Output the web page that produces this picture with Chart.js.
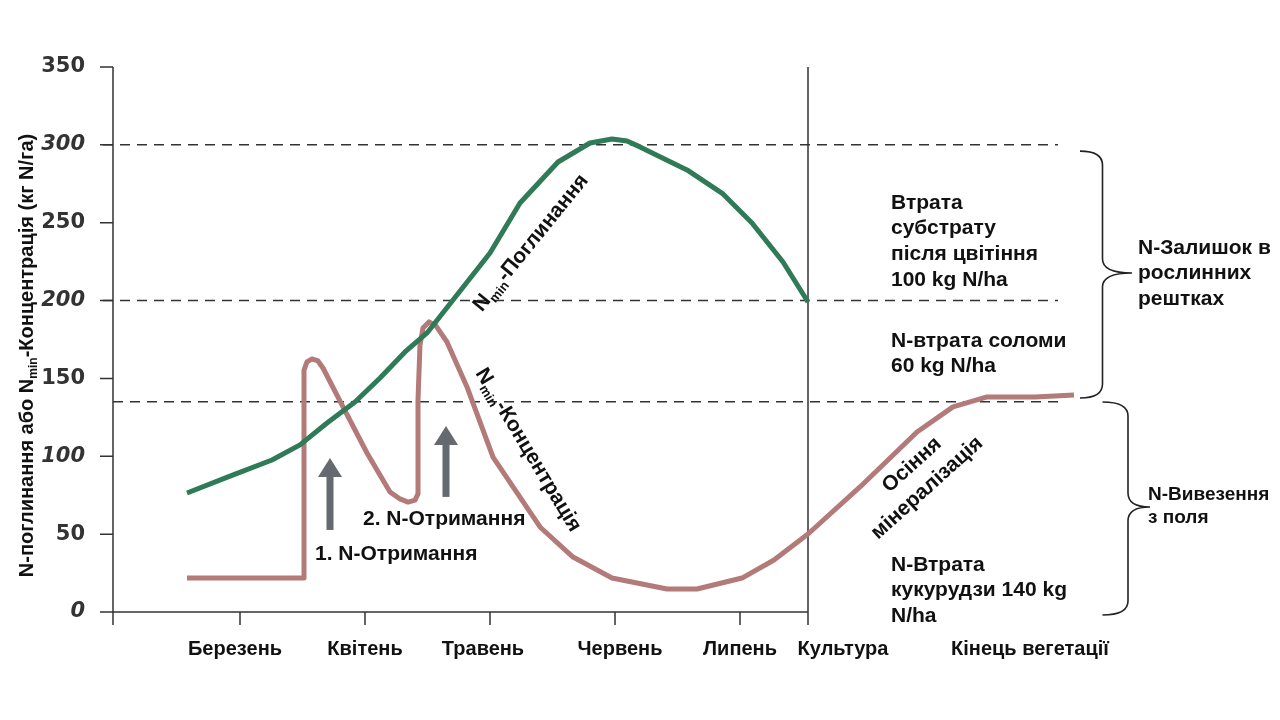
<!DOCTYPE html>
<html lang="uk">
<head>
<meta charset="utf-8">
<title>N-поглинання та Nmin-концентрація</title>
<script src="https://cdn.jsdelivr.net/npm/chart.js@4.4.1/dist/chart.umd.min.js"></script>
<style>
  html, body { margin: 0; padding: 0; background: #fff; }
  #wrap { position: relative; width: 1280px; height: 720px; }
</style>
</head>
<body>
<div id="wrap"><canvas id="chart" width="1280" height="720"></canvas></div>
<script>
// вісь X у "місяцях": 1 = Березень ... 5 = Липень, далі лінія "Культура"
const uptakeX = [0.576, 0.92, 1.256, 1.48, 1.696, 1.92, 2.12, 2.32, 2.496, 2.704, 3.0, 3.24, 3.544, 3.8, 3.976, 4.096, 4.2, 4.576, 4.864, 5.096, 5.344, 5.544];
const uptakeY = [76.4, 87.3, 97.6, 107.3, 121.4, 134.9, 150.3, 167.0, 179.2, 200.4, 230.6, 262.7, 289.0, 301.2, 303.8, 302.5, 298.7, 283.9, 268.5, 249.8, 224.8, 199.1];

const concX = [0.576, 1.512, 1.512, 1.536, 1.576, 1.624, 1.664, 1.824, 2.016, 2.2, 2.28, 2.344, 2.4, 2.424, 2.424, 2.44, 2.464, 2.512, 2.568, 2.656, 2.816, 3.024, 3.4, 3.664, 3.976, 4.416, 4.656, 5.016, 5.272, 5.544, 5.96, 6.416, 6.704, 6.976, 7.36, 7.672];
const concY = [21.8, 21.8, 155.4, 160.6, 162.5, 161.2, 156.7, 131.7, 102.1, 77.1, 72.6, 70.6, 71.9, 75.8, 136.2, 171.5, 182.4, 186.3, 183.7, 173.4, 144.5, 99.5, 54.6, 35.3, 21.8, 14.8, 14.8, 21.8, 33.4, 50.1, 80.3, 115.6, 131.7, 138.1, 138.1, 139.4];

const monthLabels = ['Березень', 'Квітень', 'Травень', 'Червень', 'Липень', 'Культура', 'Кінець вегетації'];
const monthLabelPos = [0.96, 2.0, 2.944, 4.04, 5.0, 5.824, 7.32];
const tickMarkPos = [1, 2, 3, 4, 5];
const cropLineX = 5.544;
const italicTicks = [0, 100, 200, 300];
const refLines = [300, 200, 135];
const refLineEnd = 7.544;

// стрілки внесення добрив: x, початок і вістря (кг N/га)
const arrows = [
  { x: 1.72, from: 52.7, to: 98.9 },
  { x: 2.648, from: 73.9, to: 119.5 }
];

const blocks = [
  { lines: ['Втрата', 'субстрату', 'після цвітіння', '100 kg N/ha'], x: 6.208, y: 262.7, size: 21, lh: 25.7 },
  { lines: ['N-втрата соломи', '60 kg N/ha'], x: 6.208, y: 174.1, size: 21, lh: 25.7 },
  { lines: ['N-Втрата', 'кукурудзи 140 kg', 'N/ha'], x: 6.208, y: 30.2, size: 21, lh: 25.7 },
  { lines: ['N-Залишок в', 'рослинних', 'рештках'], x: 8.184, y: 233.8, size: 21, lh: 25.7 },
  { lines: ['N-Вивезення', 'з поля'], x: 8.264, y: 75.1, size: 19, lh: 23 },
  { lines: ['1. N-Отримання'], x: 1.6, y: 37.3, size: 21, lh: 25 },
  { lines: ['2. N-Отримання'], x: 1.984, y: 59.7, size: 21, lh: 25 }
];

const slanted = [
  { parts: [['N'], ['min', 1], ['-Поглинання']], x: 3.328, y: 237, angle: -51 },
  { parts: [['N'], ['min', 1], ['-Концентрація']], x: 3.304, y: 104, angle: 59 },
  { parts: [['Осіння']], x: 6.376, y: 94.4, angle: -42 },
  { parts: [['мінералізація']], x: 6.496, y: 79.6, angle: -42 }
];

const braces = [
  { x: 7.72, spine: 7.9, tip: 8.136, top: 296, bottom: 137.4, mid: 217.7 },
  { x: 7.9, spine: 8.104, tip: 8.28, top: 134.9, bottom: -1.9, mid: 67.4 }
];

const FONT = '"Liberation Sans", Arial, sans-serif';
const INK = '#222';

function richWidth(ctx, parts, size) {
  let w = 0;
  parts.forEach(([t, sub]) => {
    ctx.font = `bold ${sub ? Math.round(size * 0.62) : size}px ${FONT}`;
    w += ctx.measureText(t).width;
  });
  return w;
}

function drawRich(ctx, parts, cx, cy, angle, size) {
  ctx.save();
  ctx.translate(cx, cy);
  ctx.rotate(angle * Math.PI / 180);
  ctx.textBaseline = 'middle';
  ctx.textAlign = 'left';
  ctx.fillStyle = '#111';
  let x = -richWidth(ctx, parts, size) / 2;
  parts.forEach(([t, sub]) => {
    const s = sub ? Math.round(size * 0.62) : size;
    ctx.font = `bold ${s}px ${FONT}`;
    ctx.fillText(t, x, sub ? size * 0.32 : 0);
    x += ctx.measureText(t).width;
  });
  ctx.restore();
}

const decor = {
  id: 'decor',
  beforeDatasetsDraw(chart) {
    const { ctx, scales: { x, y } } = chart;
    const y0 = y.getPixelForValue(0);
    ctx.save();
    ctx.strokeStyle = '#333';
    ctx.lineWidth = 1.5;

    // пунктирні рівні
    ctx.setLineDash([10, 7]);
    refLines.forEach((v, i) => {
      const py = y.getPixelForValue(v);
      ctx.beginPath();
      ctx.moveTo(i < 2 ? x.left - 10 : x.left, py);
      ctx.lineTo(x.getPixelForValue(refLineEnd), py);
      ctx.stroke();
    });
    ctx.setLineDash([]);

    // осі
    ctx.beginPath();
    ctx.moveTo(x.left, y.getPixelForValue(350));
    ctx.lineTo(x.left, y0 + 13);
    ctx.moveTo(x.left - 8, y0);
    ctx.lineTo(x.getPixelForValue(cropLineX), y0);
    const cx = x.getPixelForValue(cropLineX);
    ctx.moveTo(cx, y.getPixelForValue(350));
    ctx.lineTo(cx, y0 + 13);
    tickMarkPos.forEach(v => {
      const px = x.getPixelForValue(v);
      ctx.moveTo(px, y0);
      ctx.lineTo(px, y0 + 13);
    });
    for (let v = 0; v <= 350; v += 50) {
      const py = y.getPixelForValue(v);
      ctx.moveTo(x.left - 13, py);
      ctx.lineTo(x.left, py);
    }
    ctx.stroke();
    ctx.restore();
  },
  afterDatasetsDraw(chart) {
    const { ctx, scales: { x, y } } = chart;
    ctx.save();

    // стрілки
    ctx.fillStyle = '#646a6f';
    arrows.forEach(a => {
      const px = x.getPixelForValue(a.x);
      const pFrom = y.getPixelForValue(a.from);
      const pTip = y.getPixelForValue(a.to);
      const head = 19;
      ctx.fillRect(px - 3.5, pTip + head - 1, 7, pFrom - pTip - head + 1);
      ctx.beginPath();
      ctx.moveTo(px, pTip);
      ctx.lineTo(px + 12, pTip + head);
      ctx.lineTo(px - 12, pTip + head);
      ctx.closePath();
      ctx.fill();
    });

    // підписи-блоки
    ctx.fillStyle = '#111';
    ctx.textAlign = 'left';
    ctx.textBaseline = 'middle';
    blocks.forEach(b => {
      ctx.font = `bold ${b.size}px ${FONT}`;
      const px = x.getPixelForValue(b.x);
      const py = y.getPixelForValue(b.y);
      b.lines.forEach((t, i) => ctx.fillText(t, px, py + i * b.lh));
    });

    slanted.forEach(s => drawRich(ctx, s.parts, x.getPixelForValue(s.x), y.getPixelForValue(s.y), s.angle, 21));

    // фігурні дужки
    ctx.strokeStyle = INK;
    ctx.lineWidth = 1.6;
    braces.forEach(b => {
      const xl = x.getPixelForValue(b.x), xs = x.getPixelForValue(b.spine), xt = x.getPixelForValue(b.tip);
      const yt = y.getPixelForValue(b.top), yb = y.getPixelForValue(b.bottom), ym = y.getPixelForValue(b.mid);
      const r = 14;
      ctx.beginPath();
      ctx.moveTo(xl, yt);
      ctx.quadraticCurveTo(xs, yt, xs, yt + r);
      ctx.lineTo(xs, ym - r);
      ctx.quadraticCurveTo(xs, ym, xt, ym);
      ctx.quadraticCurveTo(xs, ym, xs, ym + r);
      ctx.lineTo(xs, yb - r);
      ctx.quadraticCurveTo(xs, yb, xl, yb);
      ctx.stroke();
    });

    // назва осі Y
    drawRich(ctx, [['N-поглинання або N'], ['min', 1], ['-Концентрація (кг N/га)']],
      27, (y.top + y.bottom) / 2 + 16, -90, 20);
    ctx.restore();
  }
};

new Chart(document.getElementById('chart'), {
  type: 'line',
  data: {
    datasets: [
      {
        label: 'Nmin-Поглинання',
        data: uptakeX.map((v, i) => ({ x: v, y: uptakeY[i] })),
        borderColor: '#2f7a57', borderWidth: 5, pointRadius: 0,
        tension: 0, borderJoinStyle: 'round', fill: false
      },
      {
        label: 'Nmin-Концентрація',
        data: concX.map((v, i) => ({ x: v, y: concY[i] })),
        borderColor: '#b27a78', borderWidth: 5, pointRadius: 0,
        tension: 0, borderJoinStyle: 'round', fill: false
      }
    ]
  },
  options: {
    responsive: false, animation: false, devicePixelRatio: 1,
    layout: { padding: { top: 67, right: 165, left: 0, bottom: 0 } },
    plugins: { legend: { display: false }, tooltip: { enabled: false } },
    scales: {
      x: {
        type: 'linear', min: -0.016, max: 8,
        grid: { display: false, drawTicks: false }, border: { display: false },
        afterBuildTicks: s => { s.ticks = monthLabelPos.map(v => ({ value: v })); },
        afterFit: s => { s.height = 108; },
        ticks: {
          autoSkip: false, maxRotation: 0, padding: 25, color: '#111',
          font: { family: FONT, size: 20, weight: 'bold' },
          callback: (v, i) => monthLabels[i]
        }
      },
      y: {
        min: 0, max: 350,
        grid: { display: false, drawTicks: false }, border: { display: false },
        afterFit: s => { s.width = 113; },
        ticks: {
          stepSize: 50, padding: 28, color: '#333',
          font: c => ({ family: '"DejaVu Sans", sans-serif', size: 21, weight: 'bold',
            style: italicTicks.includes(c.tick && c.tick.value) ? 'italic' : 'normal' })
        }
      }
    }
  },
  plugins: [decor]
});
</script>
</body>
</html>
